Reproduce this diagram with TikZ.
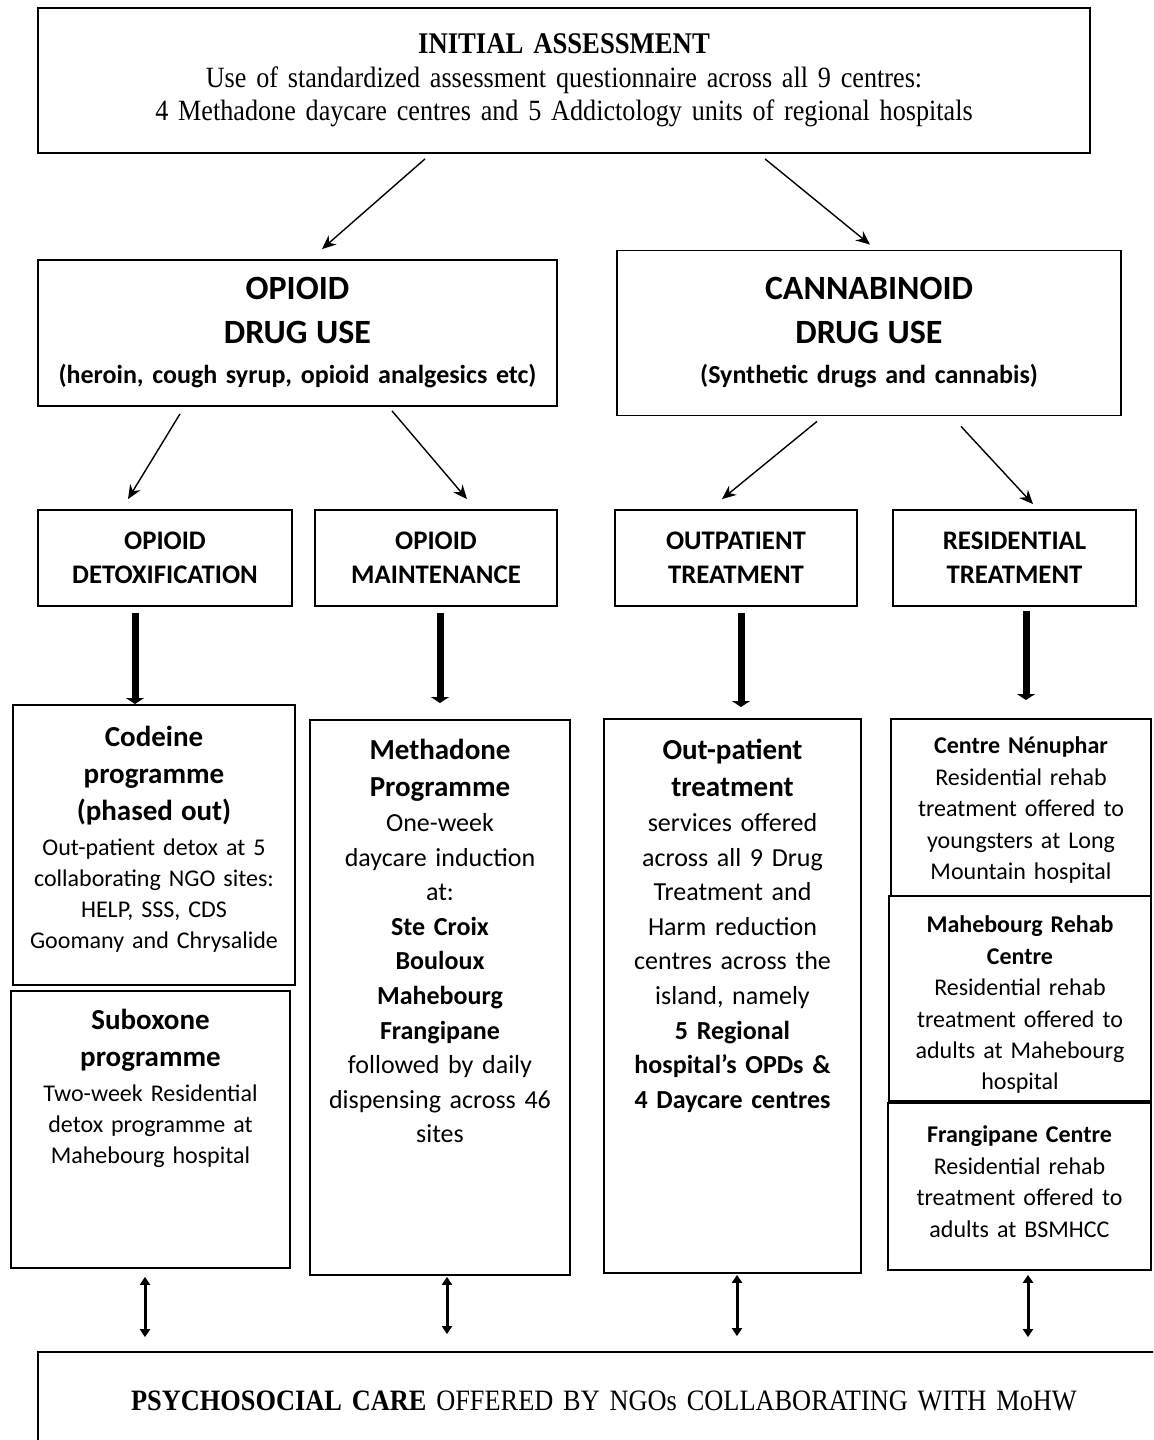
\documentclass[tikz,border=0pt]{standalone}
\usepackage{fontspec}
\setmainfont{Liberation Serif}
\setsansfont{Carlito}
\newfontfamily\narrowserif[FakeStretch=0.89, WordSpace=0.8]{Liberation Serif}
\usetikzlibrary{arrows.meta, calc}

\newcommand{\boxhead}{\fontsize{14.5}{18.5}\selectfont\bfseries}
\newcommand{\boxbody}{\fontsize{12}{15.6}\selectfont}
\newcommand{\midbody}{\fontsize{13}{17.3}\selectfont}
\newcommand{\sidebody}{\fontsize{12}{15.7}\selectfont}

\begin{document}
\begin{tikzpicture}[x=0.5pt, y=-0.5pt,
    box/.style={draw, line width=0.9pt, align=center, inner sep=0pt},
    catbox/.style={box, font=\sffamily\bfseries\fontsize{13}{20}\selectfont},
    kindbox/.style={box, text width=#1, minimum height=48pt,
        font=\sffamily\bfseries\fontsize{13.4}{17}\selectfont},
    lowbox/.style={box, anchor=north, text width=#1},
    thin arrow/.style={-{Stealth[length=7pt,width=6pt]}, line width=0.7pt},
    thick arrow/.style={-{Triangle[length=3pt,width=9pt]}, line width=3.5pt},
    both ways/.style={{Triangle[length=4pt,width=5pt]}-{Triangle[length=4pt,width=5pt]}, line width=1.5pt}]

    \clip[use as bounding box] (0,0) rectangle (1153,1440);

    % assessment
    \node[box, text width=526pt, minimum height=72.5pt,
        font=\narrowserif\fontsize{14.7}{16.75}\selectfont] (assess) at (564,80.5)
        {{\bfseries\fontsize{15}{16.75}\selectfont INITIAL ASSESSMENT}\\
         Use of standardized assessment questionnaire across all 9 centres:\\
         4 Methadone daycare centres and 5 Addictology units of regional hospitals};

    % drug use categories
    \node[catbox, text width=259.5pt, minimum height=73pt] (opioid) at (297.5,333)
        {{\fontsize{17}{22}\selectfont OPIOID\\DRUG USE\\}
         (heroin, cough syrup, opioid analgesics etc)};
    \node[catbox, text width=252pt, minimum height=82.5pt] (cannab) at (869,333)
        {{\fontsize{17}{22}\selectfont CANNABINOID\\DRUG USE\\}
         (Synthetic drugs and cannabis)};

    % kinds of treatment
    \node[kindbox=127pt] (detox) at (165,558) {OPIOID\\DETOXIFICATION};
    \node[kindbox=121pt] (maint) at (436,558) {OPIOID\\MAINTENANCE};
    \node[kindbox=121pt] (outpat) at (736,558) {OUTPATIENT\\TREATMENT};
    \node[kindbox=121.5pt] (resid) at (1014.5,558) {RESIDENTIAL\\TREATMENT};

    % programmes
    \node[lowbox=141pt, text height=21pt, text depth=119pt,
        font=\sffamily\boxbody] (codeine) at (154,704)
        {{\boxhead Codeine\\programme\\(phased out)\\[1.5pt]}
         Out-patient detox at 5\\collaborating NGO sites:\\HELP, SSS, CDS\\Goomany and Chrysalide};
    \node[lowbox=139.5pt, text height=19.5pt, text depth=119pt,
        font=\sffamily\boxbody] (subox) at (150.5,990)
        {{\boxhead Suboxone\\programme\\[1.5pt]}
         Two-week Residential\\detox programme at\\Mahebourg hospital};
    \node[lowbox=130pt, text height=20pt, text depth=257.5pt,
        font=\sffamily\midbody] (metha) at (440,719)
        {{\boxhead Methadone\\Programme\\}
         One-week\\daycare induction\\at:\\{\bfseries Ste Croix\\Bouloux\\Mahebourg\\Frangipane\\}
         followed by daily\\dispensing across 46\\sites};
    \node[lowbox=128.5pt, text height=20.5pt, text depth=256.5pt,
        font=\sffamily\midbody] (outtreat) at (732.5,718)
        {{\boxhead Out-patient\\treatment\\}
         services offered\\across all 9 Drug\\Treatment and\\Harm reduction\\centres across the\\island, namely\\
         {\bfseries 5 Regional\\hospital’s OPDs \&\\4 Daycare centres}};
    \node[lowbox=130pt, text height=17.5pt, text depth=71pt,
        font=\sffamily\sidebody] (nenu) at (1021,718)
        {{\bfseries Centre Nénuphar}\\Residential rehab\\treatment offered to\\youngsters at Long\\Mountain hospital};
    \node[lowbox=131pt, text height=18.5pt, text depth=84pt,
        font=\sffamily\sidebody] (maheb) at (1020,895)
        {{\bfseries Mahebourg Rehab\\Centre}\\Residential rehab\\treatment offered to\\adults at Mahebourg\\hospital};
    \node[lowbox=131.5pt, text height=20pt, text depth=63.5pt,
        font=\sffamily\sidebody] (frang) at (1019.5,1102)
        {{\bfseries Frangipane Centre}\\Residential rehab\\treatment offered to\\adults at BSMHCC};

    % psychosocial care
    \node[box, text width=566pt, minimum height=49pt,
        font=\narrowserif\fontsize{14.8}{18}\selectfont] (psycho) at (604,1401)
        {{\bfseries PSYCHOSOCIAL CARE} OFFERED BY NGOs COLLABORATING WITH MoHW};

    % connectors
    \draw[thin arrow] ($(assess.south)+(-139,5)$) -- ($(opioid.north)+(24.5,-10)$);
    \draw[thin arrow] ($(assess.south)+(201,5)$) -- ($(cannab.north)+(1,-5)$);
    \draw[thin arrow] ($(opioid.south)+(-117.5,7)$) -- ($(detox.north)+(-37,-10)$);
    \draw[thin arrow] ($(opioid.south)+(94.5,4)$) -- ($(maint.north)+(31,-10)$);
    \draw[thin arrow] ($(cannab.south)+(-52,5)$) -- ($(outpat.north)+(-14,-10)$);
    \draw[thin arrow] ($(cannab.south)+(92,10)$) -- ($(resid.north)+(18.5,-5)$);

    \draw[thick arrow] ($(detox.south)+(-30,6)$) -- ($(codeine.north)+(-19,0)$);
    \draw[thick arrow] ($(maint.south)+(4,6)$) -- ($(metha.north)+(0,-16)$);
    \draw[thick arrow] ($(outpat.south)+(5,6)$) -- ($(outtreat.north)+(8.5,-11)$);
    \draw[thick arrow] ($(resid.south)+(11.5,4)$) -- ($(nenu.north)+(5,-18)$);

    \draw[both ways] ($(subox.south)+(-5.5,8)$) -- ($(psycho.north)+(-459,-14)$);
    \draw[both ways] ($(metha.south)+(7,1)$) -- ($(psycho.north)+(-157,-17)$);
    \draw[both ways] ($(outtreat.south)+(4.5,1)$) -- ($(psycho.north)+(133,-15)$);
    \draw[both ways] ($(frang.south)+(8.5,4)$) -- ($(psycho.north)+(424,-14)$);
\end{tikzpicture}
\end{document}
